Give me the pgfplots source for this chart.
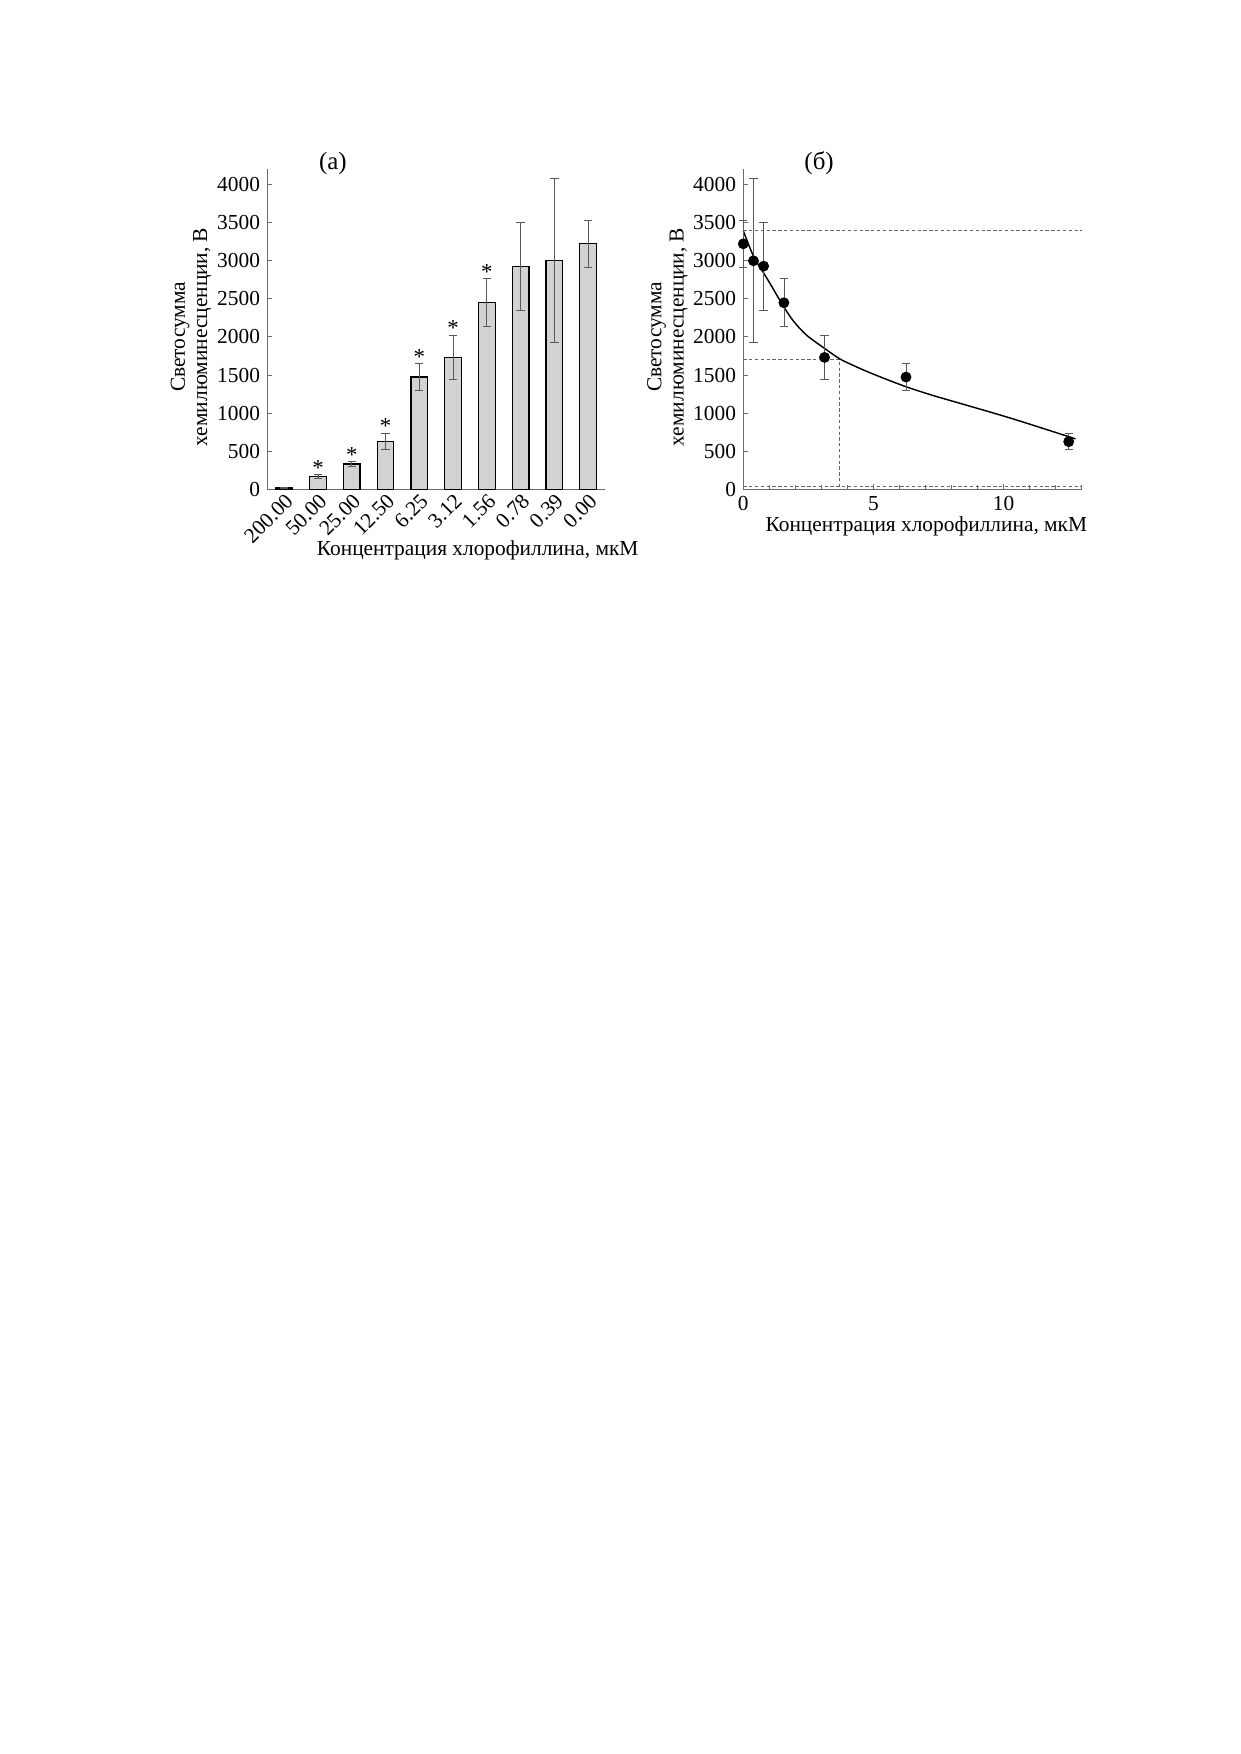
\documentclass[border=0pt]{standalone}
\usepackage{fontspec}
\setmainfont{Liberation Serif}
\usepackage{pgfplots}
\usepackage{pgfplotstable}
\pgfplotsset{compat=1.18}

\pgfplotstableread{
x y e
0 17 10
1 170 25
2 332 30
3 628 110
4 1473 175
5 1731 290
6 2448 315
7 2929 580
8 2999 1075
9 3222 310
}\bardata

\pgfplotstableread{
x y e
0 3222 310
0.39 2999 1075
0.78 2929 580
1.56 2448 315
3.12 1731 290
6.25 1473 175
12.5 625 108
}\pointdata

\pgfplotstableread{
x y
0 3391
0.39 3060
0.78 2840
1.08 2670
1.5 2425
1.92 2210
2.44 2020
3.14 1845
3.72 1709
4.49 1585
5.26 1475
6.26 1345
7.3 1230
8.46 1115
10.38 922
12.76 662
}\curvedata

\pgfplotsset{
  every axis title shift=0pt,
  mystyle/.style={
    scale only axis,
    height=154.20pt,
    ymin=0, ymax=4200,
    ytick={0,500,...,4000},
    axis x line*=bottom,
    axis y line*=left,
    axis line style={gray!85!black, line width=0.5pt},
    tick style={gray!85!black, line width=0.4pt},
    tick align=inside,
    major tick length=2.4pt,
    minor tick length=2pt,
    /pgf/number format/assume math mode=true,
    /pgf/number format/1000 sep={},
    ticklabel style={font=\fontsize{10.3}{12}\selectfont},
    label style={font=\fontsize{10.3}{10.8}\selectfont},
    title style={font=\fontsize{12}{14}\selectfont, anchor=center, yshift=0pt},
    ylabel={Светосумма\\хемилюминесценции, В},
    xlabel={Концентрация хлорофиллина, мкМ},
    clip=false,
  },
}

\begin{document}
\begin{tikzpicture}
\path[use as bounding box, fill=white] (0pt,0pt) rectangle (597.51pt,-845.18pt);

% ---------- (a) ----------
\begin{axis}[
  mystyle,
  at={(128.80pt,-235.77pt)}, anchor=south west,
  width=162.73pt,
  xmin=-0.5, xmax=9.5,
  xtick={0,...,9},
  xticklabels={200.00,50.00,25.00,12.50,6.25,3.12,1.56,0.78,0.39,0.00},
  xtick style={draw=none},
  xticklabel style={rotate=45, anchor=north east, inner sep=1pt},
  ylabel style={align=center, at={(axis description cs:-0.226,0.476)}, anchor=center},
  xlabel style={at={(axis description cs:0.623,-0.19)}, anchor=center},
  title={(а)},
  title style={at={(axis description cs:0.194,1.019)}},
]
\addplot[ybar, bar width=8pt, fill=gray!35, draw=black, line width=0.6pt,
  error bars/.cd, y dir=both, y explicit,
  error bar style={gray!70!black, line width=0.4pt},
  error mark options={rotate=90, mark size=2pt, gray!70!black, line width=0.4pt}]
  table[x=x, y=y, y error=e] {\bardata};
\addplot[draw=none, mark=none, nodes near coords={*},
  every node near coord/.append style={anchor=south, inner sep=0pt, yshift=-0.5pt, font=\fontsize{11}{12}\selectfont, black}]
  coordinates {(1,195) (2,362) (3,738) (4,1648) (5,2021) (6,2763)};
\end{axis}

% ---------- (б) ----------
\begin{axis}[
  mystyle,
  at={(358.17pt,-235.77pt)}, anchor=south west,
  width=163.06pt,
  xmin=0, xmax=13,
  xtick={0,5,10},
  minor xtick={1,2,3,4,6,7,8,9,11,12,13},
  ylabel style={align=center, at={(axis description cs:-0.224,0.476)}, anchor=center},
  xlabel style={at={(axis description cs:0.541,-0.117)}, anchor=center},
  title={(б)},
  title style={at={(axis description cs:0.224,1.019)}},
]
\addplot[gray!80!black, line width=0.5pt, dash pattern=on 1.6pt off 1.2pt] coordinates {(0,3400) (13,3400)};
\addplot[gray!80!black, line width=0.5pt, dash pattern=on 1.6pt off 1.2pt] coordinates {(0,1709) (3.69,1709) (3.69,0)};
\addplot[gray!80!black, line width=0.5pt, dash pattern=on 1.6pt off 1.2pt] coordinates {(0,40) (13,40)};
\addplot[black, line width=0.7pt, smooth, mark=none] table[x=x, y=y] {\curvedata};
\addplot[only marks, mark=*, mark size=2.4pt, black,
  error bars/.cd, y dir=both, y explicit,
  error bar style={gray!70!black, line width=0.4pt},
  error mark options={rotate=90, mark size=2pt, gray!70!black, line width=0.4pt}]
  table[x=x, y=y, y error=e] {\pointdata};
\end{axis}
\end{tikzpicture}
\end{document}
